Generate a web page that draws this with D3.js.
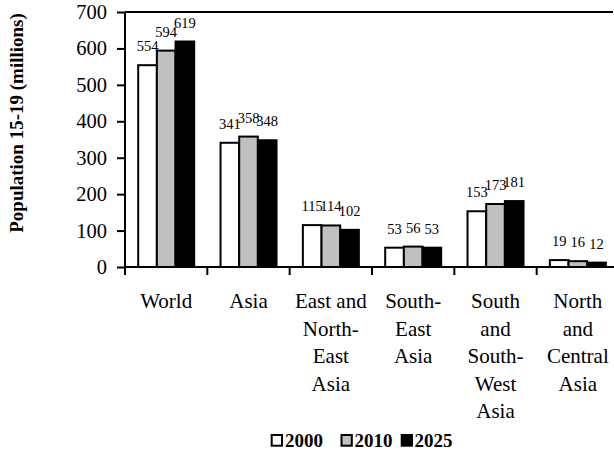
<!DOCTYPE html>
<html><head><meta charset="utf-8">
<script src="https://cdn.jsdelivr.net/npm/d3@7"></script>
<style>body{margin:0;background:#fff}svg{display:block}</style>
</head><body><svg id="c" width="614" height="451"></svg>
<script>
const categories = ["World","Asia","East and North-East Asia","South-East Asia","South and South-West Asia","North and Central Asia"];
const categoryLines = [["World"],["Asia"],["East and","North-","East","Asia"],["South-","East","Asia"],["South","and","South-","West","Asia"],["North","and","Central","Asia"]];
const seriesNames = ["2000","2010","2025"];
const values2000 = [554,341,115,53,153,19];
const values2010 = [594,358,114,56,173,16];
const values2025 = [619,348,102,53,181,12];
const yTicks = [0,100,200,300,400,500,600,700];
const seriesValues = [values2000, values2010, values2025];
const fills = ["#ffffff","#c0c0c0","#000000"];
const FONT = "'Liberation Serif', Tinos, 'Times New Roman', Times, 'DejaVu Serif', serif";

const svg = d3.select("#c").attr("font-family", FONT);
const x = d3.scaleBand().domain(categories).range([125, 619]).padding(0);
const xs = d3.scaleBand().domain(seriesNames).range([13.2, 69.2]).padding(0);
const y = d3.scaleLinear().domain([0,700]).range([267, 12]);

// top border
svg.append("line").attr("x1",125).attr("x2",613).attr("y1",y(700)).attr("y2",y(700))
  .attr("stroke","#000").attr("stroke-width",2);

// bars
seriesNames.forEach((s, si) => {
  svg.append("g").selectAll("rect").data(categories).join("rect")
    .attr("x", c => x(c) + xs(s))
    .attr("y", (c, i) => y(seriesValues[si][i]))
    .attr("width", xs.bandwidth())
    .attr("height", (c, i) => y(0) - y(seriesValues[si][i]))
    .attr("fill", fills[si]).attr("stroke","#000").attr("stroke-width",2);
  svg.append("g").selectAll("text").data(categories).join("text")
    .attr("x", c => x(c) + xs(s) + xs.bandwidth()/2)
    .attr("y", (c, i) => y(seriesValues[si][i]) - 14)
    .attr("text-anchor","middle").attr("font-size","14.5px").attr("font-family", FONT)
    .text((c, i) => seriesValues[si][i]);
});

// y axis
const ya = svg.append("g").attr("transform","translate(125,0)")
  .call(d3.axisLeft(y).tickValues(yTicks).tickSize(8).tickPadding(10));
ya.attr("font-family", FONT);
ya.select(".domain").attr("stroke-width",2).attr("d","M0,"+y(700)+"V"+y(0));
ya.selectAll(".tick line").attr("stroke-width",2);
ya.selectAll(".tick text").attr("font-size","20.5px").attr("font-family", FONT);

// x axis
const xa = svg.append("g").attr("transform","translate(0,"+y(0)+")");
xa.append("line").attr("x1",125).attr("x2",619).attr("stroke","#000").attr("stroke-width",2);
xa.selectAll("line.t").data(categories).join("line").attr("class","t")
  .attr("x1", c => x(c)).attr("x2", c => x(c)).attr("y1",0).attr("y2",8)
  .attr("stroke","#000").attr("stroke-width",2);

// category labels
const cl = svg.append("g").selectAll("text").data(categories).join("text")
  .attr("text-anchor","middle").attr("font-size","21px").attr("font-family", FONT);
cl.each(function(c, i){
  const t = d3.select(this);
  categoryLines[i].forEach((ln, li) => {
    t.append("tspan").attr("x", x(c) + x.bandwidth()/2).attr("y", 308 + 27.5*li).text(ln);
  });
});

// y title
svg.append("text").attr("transform","translate(16,123) rotate(-90)")
  .attr("text-anchor","middle").attr("dominant-baseline","central").attr("font-family", FONT)
  .attr("font-size","19px").attr("font-weight","bold").text("Population 15-19 (millions)");

// legend
const legX = [271.7, 341.5, 401.7];
const legTX = [285, 354.5, 414.5];
seriesNames.forEach((s, si) => {
  svg.append("rect").attr("x", legX[si]).attr("y",435).attr("width",10.3).attr("height",10.7)
    .attr("fill", fills[si]).attr("stroke","#000").attr("stroke-width",2);
  svg.append("text").attr("x", legTX[si]).attr("y",446.5).attr("font-size","19px").attr("font-family", FONT)
    .attr("font-weight","bold").text(s);
});
</script></body></html>
